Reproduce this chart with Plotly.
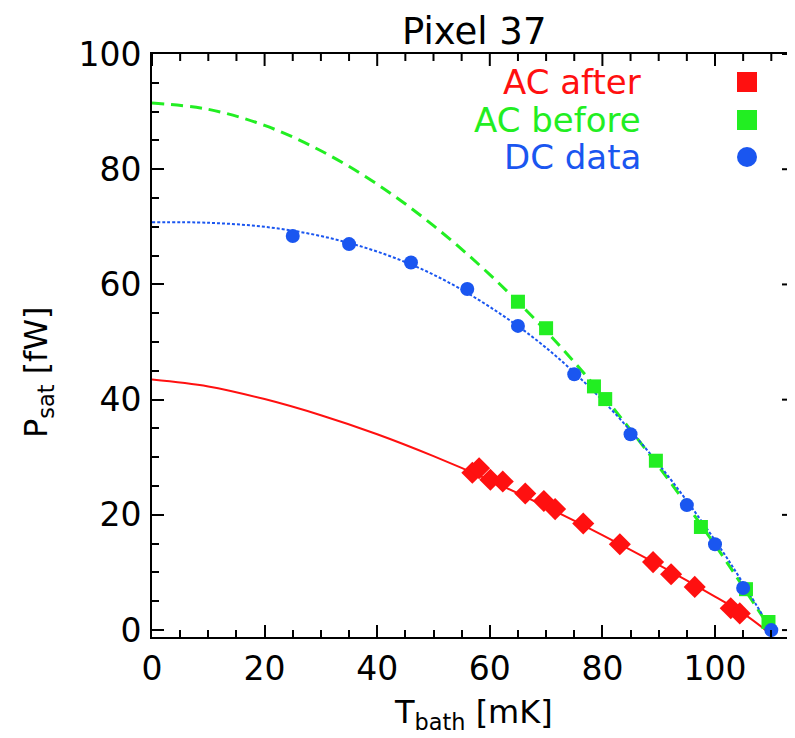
import plotly.graph_objects as go

# ---- data ----
dc_T = [25, 35, 46, 56, 65, 75, 85, 95, 100, 105, 110]
dc_P = [68.4, 67.0, 63.8, 59.2, 52.8, 44.4, 34.0, 21.7, 14.9, 7.3, 0.0]

acb_T = [65, 70, 78.5, 80.5, 89.5, 97.5, 105.5, 109.5]
acb_P = [57.0, 52.4, 42.3, 40.1, 29.4, 17.9, 7.1, 1.4]

aca_T = [56.9, 58.1, 60.1, 62.3, 66.3, 69.6, 71.6, 76.6, 83.1, 89.0, 92.2, 96.4, 102.8, 104.4]
aca_P = [27.3, 28.1, 26.1, 25.8, 23.7, 22.4, 21.0, 18.5, 14.9, 11.8, 9.7, 7.5, 3.8, 2.9]

# fit curves
fitb_T = [0, 10, 20, 30, 40, 50, 60, 70, 80, 90, 100, 105, 110]
fitb_P = [91.5, 90.4, 87.6, 83.2, 77.4, 70.2, 61.7, 51.9, 40.8, 28.4, 14.8, 7.5, 0.0]

fitdc_T = [0, 10, 20, 30, 40, 50, 60, 70, 80, 90, 100, 105, 110]
fitdc_P = [70.8, 70.7, 70.0, 68.4, 65.7, 61.7, 56.1, 49.0, 39.9, 28.8, 15.6, 8.1, 0.0]

fita_T = [0, 10, 20, 30, 40, 50, 60, 70, 80, 90, 100, 105, 109]
fita_P = [43.5, 42.3, 40.1, 37.3, 34.0, 30.2, 26.0, 21.4, 16.5, 11.3, 5.8, 2.9, 0.0]

x_ticks = [0, 20, 40, 60, 80, 100]
y_ticks = [0, 20, 40, 60, 80, 100]
x_minor = [5, 10, 15, 25, 30, 35, 45, 50, 55, 65, 70, 75, 85, 90, 95, 105, 110]
y_minor = [5, 10, 15, 25, 30, 35, 45, 50, 55, 65, 70, 75, 85, 90, 95]

RED = "#ff1010"
GREEN = "#22ee22"
BLUE = "#1a56f0"
FONT = "DejaVu Sans"

fig = go.Figure()
fig.add_trace(go.Scatter(x=fitb_T, y=fitb_P, mode="lines", line=dict(color=GREEN, width=3, dash="12px,7px", shape="spline"), showlegend=False))
fig.add_trace(go.Scatter(x=fitdc_T, y=fitdc_P, mode="lines", line=dict(color=BLUE, width=2, dash="3px,2px", shape="spline"), showlegend=False))
fig.add_trace(go.Scatter(x=fita_T, y=fita_P, mode="lines", line=dict(color=RED, width=2, shape="spline"), showlegend=False))

fig.add_trace(go.Scatter(x=acb_T, y=acb_P, mode="markers", marker=dict(symbol="square", size=14, color=GREEN), showlegend=False))
fig.add_trace(go.Scatter(x=dc_T, y=dc_P, mode="markers", marker=dict(symbol="circle", size=14, color=BLUE), showlegend=False))
fig.add_trace(go.Scatter(x=aca_T, y=aca_P, mode="markers", marker=dict(symbol="diamond", size=17, color=RED), showlegend=False))

# the page body has an 8 px margin, so the figure is drawn 8 px smaller and shifted
OFF = 8
W, H = 795 - OFF, 738 - OFF
L = 152 - OFF          # plot left edge on screen: 152
T = 54 - OFF           # plot top edge on screen: 54
B = H - (637 - OFF)    # plot bottom edge on screen: 637
R = 0                  # plot right edge on screen: 795
pw = W - L - R
ph = H - T - B

def px(xs):  # screen x -> paper x
    return (xs - OFF - L) / pw

def py(ys):  # screen y -> paper y
    return (H - B - (ys - OFF)) / ph

XR = [0, pw / 5.63]
YR = [-1.2, 100]

tick_common = dict(
    ticks="inside", ticklen=12, tickwidth=2, tickcolor="black",
    showgrid=False, zeroline=False,
    showline=True, linecolor="black", linewidth=2,
    tickfont=dict(family=FONT, size=33, color="black"),
    minor=dict(dtick=5, ticks="inside", ticklen=7, tickwidth=2, tickcolor="black", showgrid=False),
)

fig.update_layout(
    xaxis=dict(range=XR, tickvals=x_ticks, ticklabelstandoff=1, mirror=True, **tick_common),
    yaxis=dict(range=YR, tickvals=y_ticks, ticklabelstandoff=2, **tick_common),
)

shapes = []
# mirrored ticks on the top edge (paper fractions) and right edge
for v, ln in [(v, 12) for v in x_ticks] + [(v, 7) for v in x_minor]:
    shapes.append(dict(type="line", xref="x", yref="paper",
                       x0=v, x1=v, y0=1, y1=1 - ln / ph, line=dict(color="black", width=2)))
for v, ln in [(v, 12) for v in y_ticks] + [(v, 7) for v in y_minor]:
    shapes.append(dict(type="line", xref="paper", yref="y", xsizemode="pixel", xanchor=1,
                       x0=-1, x1=-1 - ln, y0=v, y1=v, line=dict(color="black", width=2)))

annotations = [
    dict(text="Pixel 37", x=px(474), y=py(OFF), xref="paper", yref="paper", showarrow=False,
         font=dict(family=FONT, size=37, color="black"), xanchor="center", yanchor="top"),
    dict(text="P<sub>sat</sub> [fW]", x=px(38), y=py(372), xref="paper", yref="paper", showarrow=False,
         textangle=-90, font=dict(family=FONT, size=32, color="black"), xanchor="center", yanchor="middle"),
    dict(text="T<sub>bath</sub> [mK]", x=px(473), y=py(714), xref="paper", yref="paper", showarrow=False,
         font=dict(family=FONT, size=32, color="black"), xanchor="center", yanchor="middle"),
]
legend_items = [("AC after", RED, 82, "rect"), ("AC before", GREEN, 120, "rect"), ("DC data", BLUE, 157, "circle")]
for label, col, yp, kind in legend_items:
    annotations.append(dict(text=label, x=px(643), y=py(yp), xref="paper", yref="paper", showarrow=False,
                            font=dict(family=FONT, size=34, color=col), xanchor="right", yanchor="middle"))
    shapes.append(dict(type=kind, xref="paper", yref="paper", xsizemode="pixel", ysizemode="pixel",
                       xanchor=px(747), yanchor=py(yp), x0=-10, x1=10, y0=-10, y1=10,
                       fillcolor=col, line=dict(width=0)))

fig.update_layout(
    width=W, height=H,
    margin=dict(l=L, r=R, t=T, b=B),
    paper_bgcolor="white", plot_bgcolor="white",
    annotations=annotations, shapes=shapes,
    showlegend=False,
)

fig.write_html("out.html")
